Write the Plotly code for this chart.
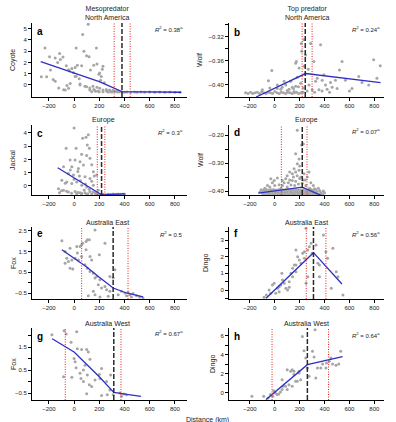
import plotly.graph_objects as go

W, H = 396, 422

# ---------------- data ----------------
panel_letters = ["a", "b", "c", "d", "e", "f", "g", "h"]
panel_titles = ["Mesopredator<br>North America", "Top predator<br>North America",
                "Europe", "Europe", "Australia East", "Australia East",
                "Australia West", "Australia West"]
species = ["Coyote", "Wolf", "Jackal", "Wolf", "Fox", "Dingo", "Fox", "Dingo"]
r2_text = ["0.38<sup>a</sup>", "0.24<sup>a</sup>", "0.3<sup>a</sup>", "0.07<sup>a</sup>",
           "0.5", "0.56<sup>a</sup>", "0.67<sup>a</sup>", "0.64<sup>a</sup>"]
x_ticks = [-200, 0, 200, 400, 600, 800]

# breakpoint (black dashed) and confidence limits (red dotted)
breakpoints = [380, 245, 218, 221, 310, 311, 315, 262]
ci_low = [318, 220, 184, 53, 60, 253, -70, -22]
ci_high = [445, 300, 244, 259, 428, 411, 372, 432]

a_pts = [(-260, 0.73), (-231, 3.27), (-195, 2.5), (-150, 2.4), (-187, 1.33), (-218, 0.73), (-115, 2.8),
         (-88, 2.48), (-130, 2.0), (-166, 0.48), (-150, 0.33), (-122, -0.27), (-83, -0.43), (-57, -0.06),
         (-62, 1.7), (-37, 1.24), (-18, 1.45), (-5, 1.09), (8, 1.55), (26, 1.75), (16, 0.78), (41, 0.55),
         (60, 1.7), (68, 4.48), (112, 5.4), (16, 3.27), (78, 3.0), (99, 2.6), (119, 2.5), (177, 3.27),
         (156, 1.75), (182, 1.85), (130, 1.33), (197, 0.94), (224, 1.39), (210, 0.42), (86, -0.12),
         (47, 0.09), (-31, 0.12), (125, -0.27), (150, -0.12), (164, -0.49), (-109, 2.25), (-44, 1.35),
         (-70, -0.45), (-44, -0.3), (8, 0.75), (47, 0.0), (99, -0.15), (125, -0.45), (157, -0.4),
         (182, -0.2), (203, -0.3), (229, -0.45), (255, -0.4), (281, -0.45), (307, -0.5), (216, 0.75),
         (229, 1.65), (203, 1.05), (240, 0.2), (190, -0.55), (170, -0.55), (260, -0.55), (290, -0.6),
         (330, -0.6), (350, -0.62), (140, -0.6), (200, -0.6), (230, -0.6), (270, -0.62), (300, -0.62),
         (320, -0.58), (340, -0.55), (360, -0.6), (380, -0.62), (400, -0.65), (420, -0.62), (450, -0.65),
         (480, -0.62), (500, -0.65), (530, -0.63), (560, -0.65), (600, -0.62), (640, -0.65), (680, -0.63),
         (720, -0.65), (760, -0.62), (800, -0.65), (840, -0.64)]
a_fit = [(-265, 2.08), (0, 1.1), (200, 0.3), (380, -0.6), (850, -0.65)]

b_pts = [(-24, -0.376), (-51, -0.393), (75, -0.394), (88, -0.400), (128, -0.394), (141, -0.404),
         (115, -0.407), (168, -0.402), (173, -0.361), (168, -0.364), (195, -0.372), (208, -0.397),
         (213, -0.331), (216, -0.344), (235, -0.325), (248, -0.350), (237, -0.369), (269, -0.374),
         (288, -0.331), (315, -0.361), (368, -0.333), (341, -0.389), (355, -0.408), (381, -0.392),
         (408, -0.400), (421, -0.407), (395, -0.383), (448, -0.396), (461, -0.404), (488, -0.392),
         (501, -0.406), (520, -0.375), (541, -0.361), (568, -0.392), (621, -0.406), (675, -0.386),
         (701, -0.396), (755, -0.400), (795, -0.358), (821, -0.389), (848, -0.368), (275, -0.400),
         (301, -0.408), (328, -0.394), (181, -0.387), (155, -0.411), (48, -0.407), (21, -0.400),
         (-235, -0.413), (-215, -0.414), (-195, -0.412), (-178, -0.414), (-160, -0.413), (-140, -0.412),
         (-122, -0.414), (-105, -0.411), (-88, -0.413), (-70, -0.414), (-52, -0.412), (-35, -0.413),
         (-18, -0.414), (0, -0.411), (18, -0.413), (35, -0.414), (52, -0.412), (70, -0.413),
         (88, -0.414), (105, -0.412), (122, -0.413), (140, -0.414), (158, -0.413), (175, -0.412),
         (192, -0.414), (210, -0.413), (228, -0.412), (-100, -0.408), (-40, -0.405), (20, -0.406),
         (60, -0.404), (100, -0.409), (150, -0.406), (190, -0.403), (230, -0.405), (260, -0.410),
         (320, -0.412), (380, -0.410), (440, -0.412), (600, -0.410)]
b_fit = [(-150, -0.42), (248, -0.381), (850, -0.396)]

c_pts = [(0, 4.38), (68, 3.6), (113, 3.87), (95, 3.67), (-63, 2.85), (16, 2.85), (105, 3.1), (121, 2.85),
         (-32, 1.96), (8, 1.96), (47, 1.83), (126, 2.09), (-84, 1.45), (-18, 1.45), (34, 1.32), (74, 1.58),
         (153, 1.07), (179, 0.82), (-45, 0.94), (-5, 0.82), (42, 0.76), (87, 0.69), (126, 0.56),
         (-97, 0.43), (-58, 0.31), (-18, 0.18), (21, 0.31), (61, 0.05), (100, -0.08), (153, 0.05),
         (-124, -0.2), (-116, -0.51), (-84, -0.33), (-45, -0.46), (8, -0.41), (47, -0.51), (87, -0.51),
         (126, -0.41), (166, -0.51), (192, -0.33), (-100, -0.35), (-60, -0.4), (-20, -0.55), (30, -0.5),
         (60, -0.55), (110, -0.58), (80, -0.3), (150, -0.45), (120, -0.25), (-70, 0.2), (0, 0.5),
         (50, 0.4), (90, 0.15), (140, 0.35), (160, 0.75), (60, 2.4), (100, 2.3), (140, 1.6), (30, 1.1),
         (-30, 1.2), (140, -0.6), (170, -0.62), (200, -0.62), (215, -0.65), (230, -0.63), (250, -0.66),
         (270, -0.62), (290, -0.64), (310, -0.6), (330, -0.63), (350, -0.61), (370, -0.63), (390, -0.6),
         (400, -0.62), (180, -0.55), (100, -0.62), (60, -0.64), (20, -0.6)]
c_fit = [(-130, 1.38), (218, -0.66), (405, -0.6)]

d_pts = [(181, -0.183), (216, -0.235), (230, -0.232), (168, -0.267), (195, -0.285), (181, -0.302),
         (155, -0.320), (120, -0.332), (141, -0.338), (168, -0.332), (195, -0.326), (275, -0.332),
         (261, -0.350), (235, -0.338), (-32, -0.356), (-5, -0.362), (21, -0.353), (61, -0.362),
         (88, -0.356), (109, -0.370), (35, -0.377), (-59, -0.380), (-19, -0.370), (61, -0.380),
         (141, -0.362), (168, -0.365), (200, -0.310), (210, -0.350), (245, -0.360), (290, -0.370),
         (310, -0.380), (120, -0.360), (150, -0.350), (100, -0.345), (180, -0.345), (200, -0.355),
         (230, -0.360), (75, -0.370), (-80, -0.390), (-40, -0.385), (0, -0.380), (50, -0.390),
         (100, -0.385), (130, -0.378), (160, -0.380), (190, -0.375), (220, -0.372), (250, -0.380),
         (280, -0.390), (320, -0.392), (350, -0.390),
         (-110, -0.395), (-90, -0.396), (-70, -0.394), (-50, -0.396), (-30, -0.395), (-10, -0.394),
         (10, -0.396), (30, -0.395), (50, -0.394), (70, -0.396), (90, -0.395), (110, -0.394),
         (130, -0.396), (150, -0.395), (170, -0.394), (190, -0.396), (210, -0.395), (230, -0.394),
         (250, -0.396), (270, -0.395), (290, -0.394), (310, -0.396), (330, -0.395), (360, -0.398),
         (390, -0.400),
         (-120, -0.403), (-100, -0.404), (-80, -0.402), (-60, -0.403), (-40, -0.404), (-20, -0.402),
         (0, -0.403), (20, -0.404), (40, -0.402), (60, -0.403), (80, -0.404), (100, -0.402),
         (120, -0.403), (140, -0.404), (160, -0.402), (180, -0.403), (200, -0.404), (220, -0.402),
         (240, -0.403), (260, -0.404), (280, -0.402), (300, -0.403), (320, -0.404), (340, -0.402),
         (370, -0.405), (400, -0.406),
         (-95, -0.410), (-75, -0.411), (-55, -0.409), (-35, -0.410), (-15, -0.411), (5, -0.409),
         (25, -0.410), (45, -0.411), (65, -0.409), (85, -0.410), (105, -0.411), (125, -0.409),
         (145, -0.410), (165, -0.411), (185, -0.409), (205, -0.410), (225, -0.411), (245, -0.409),
         (265, -0.410), (285, -0.411), (305, -0.409), (325, -0.410), (345, -0.411), (365, -0.410),
         (385, -0.411)]
d_fit = [(-133, -0.407), (221, -0.386), (400, -0.421)]

e_pts = [(-97, 2.02), (-71, 1.5), (-32, 1.66), (-58, 1.18), (-45, 1.02), (-71, 0.94), (-18, 1.1), (-32, 0.7),
         (-10, 0.66), (21, 1.75), (47, 1.75), (60, 1.83), (26, 1.43), (8, 1.18), (34, 1.1), (60, 1.27),
         (68, 1.91), (95, 1.99), (105, 2.07), (121, 2.07), (166, 2.55), (95, 1.59), (126, 1.27), (139, 1.1),
         (87, 0.86), (105, 0.7), (126, 0.54), (153, 0.46), (166, 0.22), (179, 0.3), (205, 0.14), (200, 1.35),
         (245, 1.91), (192, -0.1), (218, -0.26), (245, -0.18), (258, -0.34), (284, 0.3), (310, 0.22),
         (324, 0.62), (284, -0.42), (153, -0.42), (166, -0.58), (113, -0.63), (205, -0.69), (271, -0.66),
         (350, -0.58), (376, -0.42), (403, -0.5), (429, -0.47), (442, -0.58), (468, -0.53), (495, -0.63),
         (521, -0.69), (547, -0.74), (455, -0.69), (416, -0.63)]
e_fit = [(-97, 1.59), (0, 1.19), (100, 0.76), (200, 0.26), (310, -0.26), (416, -0.5), (547, -0.69)]

f_pts = [(-86, -0.44), (-68, -0.3), (-46, 0.0), (-32, -0.2), (-19, 0.3), (-5, 0.4), (22, 0.1), (35, -0.1),
         (8, -0.2), (49, 0.3), (62, 0.6), (76, 0.4), (57, 1.0), (89, 0.1), (103, 0.0), (116, 0.5), (130, 1.0),
         (143, 1.3), (157, 1.5), (170, 2.4), (170, 1.1), (184, 2.0), (197, 1.8), (211, 1.6), (224, 2.2),
         (238, 1.9), (251, 3.7), (238, 2.3), (265, 2.4), (265, 0.8), (251, 0.4), (278, 2.6), (292, 2.8),
         (300, 2.2), (332, 2.7), (346, 1.6), (359, 1.5), (391, 3.3), (411, 2.3), (424, 1.9), (454, 0.1),
         (467, 2.5), (494, 1.1), (508, 0.8), (548, -0.3), (170, 1.5), (143, 0.8), (116, 0.16), (35, 0.2),
         (359, 0.8)]
f_fit = [(-70, -0.5), (311, 2.24), (540, 0.36)]

g_pts = [(-176, 2.04), (-79, 2.21), (-63, 2.07), (21, 2.17), (-24, 1.71), (26, 1.43), (60, 1.39), (100, 1.39),
         (113, 1.29), (126, 0.97), (0, 1.0), (8, 0.86), (16, 0.6), (-18, 0.19), (-84, 0.21), (47, 0.36),
         (55, 0.14), (74, 0.5), (87, 0.71), (105, 0.29), (121, -0.14), (139, -0.21), (74, 0.0), (100, -0.53),
         (166, 0.07), (200, 0.31), (218, 0.57), (205, 0.14), (258, 0.0), (290, 0.29), (284, -0.36),
         (310, -0.57), (263, -0.57), (218, -0.6), (363, -0.5), (395, -0.54), (416, -0.57), (376, -0.64)]
g_fit = [(-174, 1.86), (0, 1.29), (200, 0.21), (315, -0.47), (420, -0.56), (530, -0.64)]

h_pts = [(-184, -0.35), (-89, -0.35), (-54, -0.52), (-35, -0.17), (-16, -0.35), (5, 0.0), (19, -0.17),
         (32, -0.1), (46, 0.1), (-8, 0.24), (59, 0.35), (65, 0.7), (86, 0.7), (100, 0.35), (114, 0.87),
         (140, 0.7), (168, 1.22), (181, 1.22), (208, 1.39), (195, 2.09), (154, 1.92), (127, 2.26),
         (100, 2.44), (140, 2.44), (154, 2.26), (59, 1.39), (222, 5.92), (235, 4.42), (249, 3.66),
         (276, 1.74), (262, 2.61), (303, 4.36), (316, 3.76), (324, 6.62), (330, 1.57), (343, 2.61),
         (370, 2.61), (384, 3.03), (411, 2.61), (416, 3.14), (438, 3.31), (451, 3.66), (465, 3.03),
         (492, 2.89), (514, 3.03), (530, 4.36), (195, 2.26)]
h_fit = [(-70, -0.7), (262, 2.96), (545, 3.8)]

points = [a_pts, b_pts, c_pts, d_pts, e_pts, f_pts, g_pts, h_pts]
fits = [a_fit, b_fit, c_fit, d_fit, e_fit, f_fit, g_fit, h_fit]

# y-axis tick labels per panel and minor tick spacing
y_ticks = [[0, 1, 2, 3, 4, 5], [-0.40, -0.36, -0.32], [0, 1, 2, 3, 4], [-0.40, -0.30, -0.20],
           [-0.5, 0.5, 1.5, 2.5], [0, 1, 2, 3], [-0.5, 0.5, 1.5], [0, 2, 4, 6]]
y_labels = [["0", "1", "2", "3", "4", "5"], ["\u22120.40", "\u22120.36", "\u22120.32"],
            ["0", "1", "2", "3", "4"], ["\u22120.40", "\u22120.30", "\u22120.20"],
            ["\u22120.5", "0.5", "1.5", "2.5"], ["0", "1", "2", "3"],
            ["\u22120.5", "0.5", "1.5"], ["0", "2", "4", "6"]]
y_minor = [None, 0.02, None, 0.05, 0.5, 0.5, 0.5, 1]
y_minor0 = [0, -0.40, 0, -0.40, -0.5, 0, -0.5, 0]
y_ranges = [(-1.07, 5.5), (-0.42, -0.297), (-0.68, 4.6), (-0.414, -0.164),
            (-0.79, 2.69), (-0.54, 3.78), (-0.8, 2.33), (-0.74, 6.8)]

# ---------------- layout geometry (pixels) ----------------
col_x = [(32, 187), (229, 384)]
row_y = [(23, 97), (125, 195), (227, 299), (328, 400)]
x_ranges = [(-334, 896), (-368, 878)]
ytitle_x = [13, 199, 13, 201, 13, 206, 13, 213]
title_y = [12.5, 12.5, 120, 120, 223, 223, 323, 323]
title_cx = [107, 307, 103, 306, 107, 306, 107, 306]
letter_y = [31, 32, 133, 132, 234, 234, 336, 336]
r2_y = [29, 29, 132, 131, 234, 234, 333, 335]

FONT = "Liberation Sans, Arial, sans-serif"
TXT = "#222222"

fig = go.Figure()
layout = dict(width=W, height=H, margin=dict(l=0, r=0, t=0, b=0),
              paper_bgcolor="white", plot_bgcolor="white", showlegend=False,
              font=dict(family=FONT, size=6, color=TXT))
annotations = []
shapes = []

def px2fx(p):
    return p / W

def py2fy(p):
    return 1 - p / H

for i in range(8):
    r, c = divmod(i, 2)
    n = i + 1
    xs = "" if n == 1 else str(n)
    xa, ya = "x" + xs, "y" + xs
    x0p, x1p = col_x[c]
    y0p, y1p = row_y[r]
    xr = x_ranges[c]

    px = [p[0] for p in points[i]]
    py = [p[1] for p in points[i]]
    fig.add_trace(go.Scatter(x=px, y=py, mode="markers", xaxis=xa, yaxis=ya,
                             marker=dict(size=3, color="#a6a6a6", line=dict(width=0)),
                             hoverinfo="skip"))
    fx = [p[0] for p in fits[i]]
    fy = [p[1] for p in fits[i]]
    fig.add_trace(go.Scatter(x=fx, y=fy, mode="lines", xaxis=xa, yaxis=ya,
                             line=dict(color="#2f2fc4", width=1.3), hoverinfo="skip"))

    xax = dict(domain=[px2fx(x0p), px2fx(x1p)], anchor=ya, range=list(xr),
               tickmode="array", tickvals=x_ticks,
               ticktext=[f"{v:d}".replace("-", "\u2212") for v in x_ticks],
               showline=True, linecolor="black", linewidth=1, ticks="outside", ticklen=3,
               tickcolor="black", tickwidth=1, showgrid=False, zeroline=False,
               tickfont=dict(size=6, color=TXT, family=FONT))
    yax = dict(domain=[py2fy(y1p), py2fy(y0p)], anchor=xa, range=list(y_ranges[i]),
               tickmode="array", tickvals=y_ticks[i], ticktext=y_labels[i],
               showline=True, linecolor="black", linewidth=1, ticks="outside", ticklen=3,
               tickcolor="black", tickwidth=1, showgrid=False, zeroline=False,
               tickfont=dict(size=6, color=TXT, family=FONT))
    if y_minor[i] is not None:
        yax["minor"] = dict(tickmode="linear", dtick=y_minor[i], tick0=y_minor0[i],
                            ticks="outside", ticklen=3, tickcolor="black", tickwidth=1,
                            showgrid=False)
    layout["xaxis" + xs] = xax
    layout["yaxis" + xs] = yax

    # vertical lines
    for xv in (ci_low[i], ci_high[i]):
        shapes.append(dict(type="line", xref=xa, yref=ya + " domain", x0=xv, x1=xv, y0=0, y1=1,
                           line=dict(color="#e0261f", width=1, dash="1px,1.5px")))
    shapes.append(dict(type="line", xref=xa, yref=ya + " domain", x0=breakpoints[i], x1=breakpoints[i],
                       y0=0, y1=1, line=dict(color="#2a2a2a", width=1.5, dash="5px,2px")))

    # texts
    annotations.append(dict(text=panel_titles[i], x=px2fx(title_cx[i]), y=py2fy(title_y[i]),
                            xref="paper", yref="paper", showarrow=False, xanchor="center",
                            yanchor="middle", font=dict(size=7, color=TXT, family=FONT)))
    annotations.append(dict(text="<b>" + panel_letters[i] + "</b>", x=px2fx(x0p + 3), y=py2fy(letter_y[i]),
                            xref="paper", yref="paper", showarrow=False, xanchor="left",
                            yanchor="middle", font=dict(size=10, color="black", family=FONT)))
    annotations.append(dict(text="<i>R</i><sup>2</sup> = " + r2_text[i], x=px2fx(x1p - 2),
                            y=py2fy(r2_y[i]), xref="paper", yref="paper", showarrow=False,
                            xanchor="right", yanchor="middle",
                            font=dict(size=6, color=TXT, family=FONT)))
    annotations.append(dict(text=species[i], x=px2fx(ytitle_x[i]), y=py2fy((y0p + y1p) / 2),
                            xref="paper", yref="paper", showarrow=False, textangle=-90,
                            xanchor="center", yanchor="middle",
                            font=dict(size=7, color=TXT, family=FONT)))

annotations.append(dict(text="Distance (km)", x=px2fx(207), y=py2fy(420), xref="paper", yref="paper",
                        showarrow=False, xanchor="center", yanchor="middle",
                        font=dict(size=7, color=TXT, family=FONT)))

layout["annotations"] = annotations
layout["shapes"] = shapes
fig.update_layout(**layout)
fig.write_html("out.html")
